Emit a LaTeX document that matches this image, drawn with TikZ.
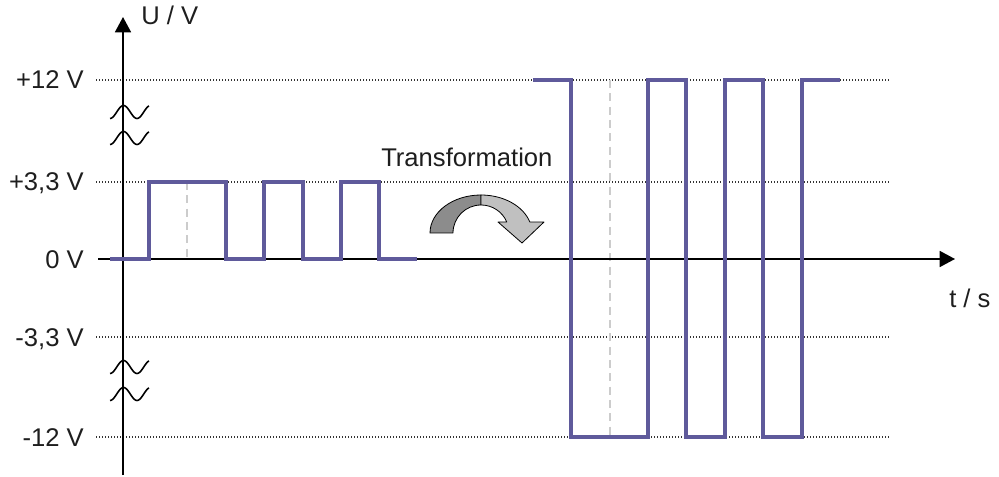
\documentclass[tikz,border=0pt]{standalone}
\usepackage{fontspec}
\setmainfont{Liberation Sans}
\usetikzlibrary{arrows.meta}
\definecolor{sig}{RGB}{95,90,155}
\definecolor{txt}{RGB}{30,30,30}
\definecolor{darkfill}{RGB}{140,140,140}
\definecolor{lightfill}{RGB}{192,192,192}
\begin{document}
\begin{tikzpicture}[x=0.75pt,y=-0.75pt,
  lbl/.style={font=\fontsize{19.2}{23}\selectfont, text=txt, inner sep=0pt},
  gridline/.style={line width=0.9pt, dash pattern=on 0.9pt off 1.35pt, black!80},
  axisline/.style={line width=1.3pt, -{Triangle[length=11.5pt,width=12pt]}},
  sigline/.style={line width=3.4pt, sig, line join=miter, line cap=butt},
  markline/.style={line width=1.1pt, gray!40, dash pattern=on 6pt off 4pt},
  breakwave/.style={line width=1.2pt},
  ribbon/.style={draw=black, line width=0.6pt, line join=round}]
\useasboundingbox (0,0) rectangle (999,477);

% reference levels
\foreach \y in {80,182,337,437}
  \draw[gridline] (96,\y) -- (889,\y);

% dashed bit-centre markers
\draw[markline] (187,182) -- (187,259);
\draw[markline] (610,80) -- (610,437);

% axes
\coordinate (xs) at (98,259);
\coordinate (xe) at (955,259);
\coordinate (ys) at (123,475);
\coordinate (ye) at (123,17);
\draw[axisline] (xs) -- (xe);
\draw[axisline] (ys) -- (ye);

% axis break symbols
\foreach \yc in {112,138,367,394}
  \draw[breakwave] plot[domain=110:149, samples=40, variable=\t]
    (\t, {\yc + 6.5*cos(360*(\t-110)/27)});

% 3,3 V logic signal
\draw[sigline] (110,259) -| (149,182) -| (226,259) -| (264,182)
  -| (303,259) -| (341,182) -| (379,259) -- (417,259);

% +/-12 V line signal
\draw[sigline] (533,80) -| (571,437) -| (648,80) -| (686,437)
  -| (725,80) -| (763,437) -| (802,80) -- (840,80);

% curved transformation arrow
\filldraw[ribbon, fill=darkfill]
  (430,233) arc[start angle=180, end angle=270, x radius=51, y radius=38]
  -- (481,205) arc[start angle=270, end angle=180, radius=28] -- cycle;
\filldraw[ribbon, fill=lightfill]
  (481,195) arc[start angle=270, end angle=343.2, x radius=51, y radius=38]
  -- (544,222) -- (522,243) -- (498,222) -- (506.8,222)
  arc[start angle=336.9, end angle=270, radius=28] -- cycle;

% labels
\node[lbl, anchor=base east] (l12p) at (84,89) {+12 V};
\node[lbl, anchor=base east] (l33p) at (84,191) {+3,3 V};
\node[lbl, anchor=base east] (l0) at (84,268) {0 V};
\node[lbl, anchor=base east] (l33m) at (84,346) {-3,3 V};
\node[lbl, anchor=base east] (l12m) at (84,446) {-12 V};
\node[lbl, anchor=base west] (uax) at (141,25) {U / V};
\node[lbl, anchor=base west] (tax) at (949,307) {t / s};
\node[lbl, anchor=base west] (trf) at (381,167) {Transformation};
\end{tikzpicture}
\end{document}
